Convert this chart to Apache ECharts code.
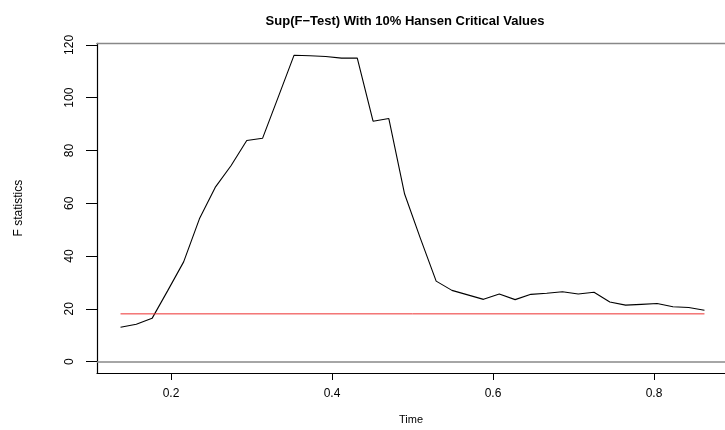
<!DOCTYPE html>
<html>
<head>
<meta charset="utf-8">
<script src="https://cdn.jsdelivr.net/npm/echarts@6/dist/echarts.min.js"></script>
<style>
html,body{margin:0;padding:0;background:#fff;}
#chart{width:725px;height:430px;}
</style>
</head>
<body>
<div id="chart"></div>
<script>
// Time points (fractions of sample)
const times = [0.1373, 0.1569, 0.1765, 0.1961, 0.2157, 0.2353, 0.2549, 0.2745, 0.2941, 0.3137,
  0.3333, 0.3529, 0.3725, 0.3922, 0.4118, 0.4314, 0.4510, 0.4706, 0.4902, 0.5098,
  0.5294, 0.5490, 0.5686, 0.5882, 0.6078, 0.6275, 0.6471, 0.6667, 0.6863, 0.7059,
  0.7255, 0.7451, 0.7647, 0.7843, 0.8039, 0.8235, 0.8431, 0.8627];
// F statistics
const fStats = [13.0, 14.2, 16.4, 27.0, 37.8, 54.1, 66.0, 74.2, 83.8, 84.6,
  100.3, 116.1, 115.9, 115.6, 115.0, 115.0, 91.1, 92.1, 63.5, 46.7,
  30.5, 27.0, 25.3, 23.6, 25.6, 23.5, 25.5, 25.9, 26.5, 25.6,
  26.3, 22.6, 21.4, 21.7, 22.0, 20.8, 20.5, 19.5];
// 10% Hansen critical value
const criticalValue = 18.1;
const xTicks = [0.2, 0.4, 0.6, 0.8];
const yTicks = [0, 20, 40, 60, 80, 100, 120];
const zeroLine = 0;

const lineData = times.map((t, i) => [t, fStats[i]]);
const critData = [[times[0], criticalValue], [times[times.length - 1], criticalValue]];

const font = '"Liberation Sans", Arial, Helvetica, sans-serif';
const chart = echarts.init(document.getElementById('chart'), null, {renderer: 'canvas'});
const xMin = 0.10807, xMax = 0.8882;
chart.setOption({
  animation: false,
  backgroundColor: '#fff',
  title: {
    text: 'Sup(F\u2212Test) With 10% Hansen Critical Values',
    left: 400, top: 10, textAlign: 'center',
    textStyle: {fontFamily: font, fontWeight: 'bold', fontSize: 13, color: '#000'}
  },
  grid: {left: 97, right: 0, top: 43.3, bottom: 55, containLabel: false},
  xAxis: [{
    type: 'value', min: xMin, max: xMax, position: 'bottom',
    name: 'Time', nameLocation: 'middle', nameGap: 41,
    nameTextStyle: {fontFamily: font, fontSize: 11, color: '#000'},
    axisLine: {show: true, onZero: false, lineStyle: {color: '#000', width: 1.2}},
    axisTick: {show: true, customValues: xTicks, length: 7, lineStyle: {color: '#000', width: 1}},
    axisLabel: {show: true, customValues: xTicks, margin: 15, fontFamily: font, fontSize: 12, color: '#000',
      formatter: v => v.toFixed(1)},
    splitLine: {show: false}
  }, {
    type: 'value', min: xMin, max: xMax, position: 'top',
    axisLine: {show: true, onZero: false, lineStyle: {color: '#888', width: 1.3}},
    axisTick: {show: false}, axisLabel: {show: false}, splitLine: {show: false}
  }],
  yAxis: {
    type: 'value', min: -4.3, max: 120.6,
    name: 'F statistics', nameLocation: 'middle', nameGap: 72, nameRotate: 90,
    nameTextStyle: {fontFamily: font, fontSize: 12, color: '#000'},
    axisLine: {show: true, onZero: false, lineStyle: {color: '#000', width: 1.2}},
    axisTick: {show: true, customValues: yTicks, length: 11, lineStyle: {color: '#000', width: 1}},
    axisLabel: {show: true, customValues: yTicks, rotate: 90, margin: 21, fontFamily: font, fontSize: 12, color: '#000'},
    splitLine: {show: false}
  },
  series: [{
    type: 'line', data: lineData, symbol: 'none', xAxisIndex: 0,
    lineStyle: {color: '#000', width: 1.1},
    markLine: {
      silent: true, symbol: 'none', label: {show: false},
      lineStyle: {color: '#888', width: 1.5, type: 'solid'},
      data: [{yAxis: zeroLine}]
    }
  }, {
    type: 'line', data: critData, symbol: 'none', xAxisIndex: 0,
    lineStyle: {color: '#ee3030', width: 1}
  }]
});
</script>
</body>
</html>
